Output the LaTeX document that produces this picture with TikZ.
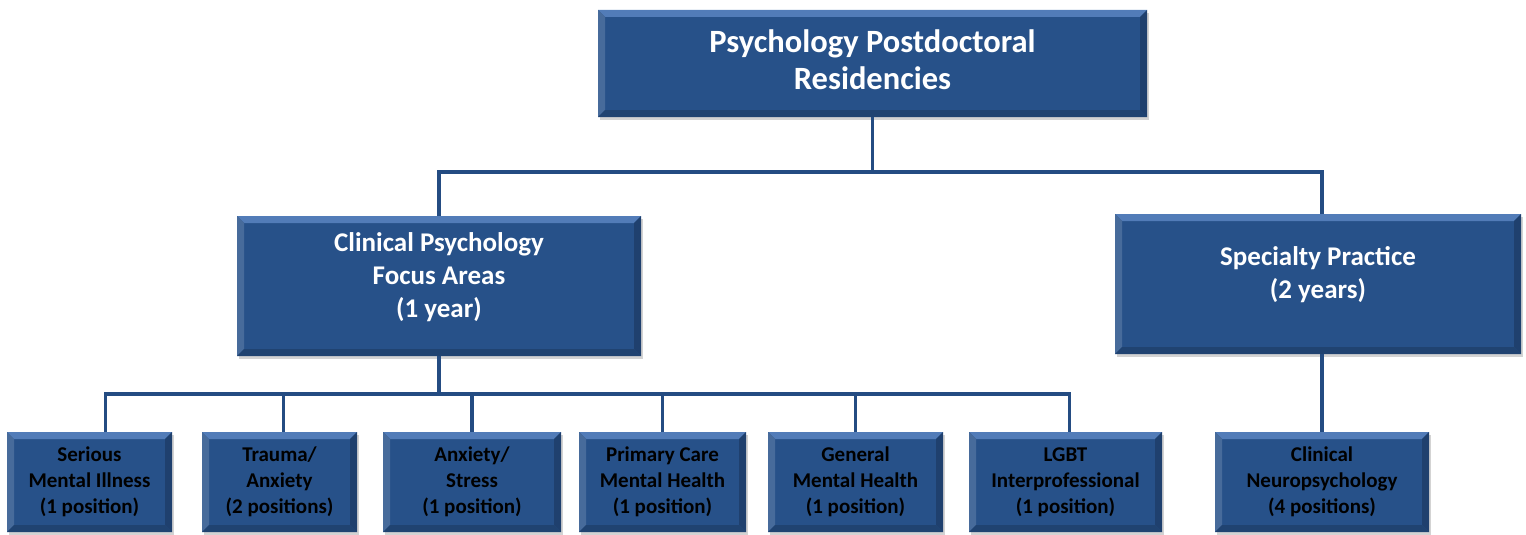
\documentclass[tikz,border=0pt]{standalone}
\usepackage{fontspec}
\setmainfont{Carlito}
\usetikzlibrary{positioning,shadows}

\definecolor{boxblue}{RGB}{39,81,137}
\definecolor{linkblue}{RGB}{36,76,130}
\definecolor{bevellight}{RGB}{82,124,184}
\definecolor{beveldark}{RGB}{27,57,98}

\tikzset{
    bevel/.style={path picture={
        \path (path picture bounding box.north west) coordinate (bnw)
              (path picture bounding box.north east) coordinate (bne)
              (path picture bounding box.south west) coordinate (bsw)
              (path picture bounding box.south east) coordinate (bse);
        \fill[bevellight] (bnw) -- (bne) -- ([shift={(-#1,-#1)}]bne) -- ([shift={(#1,-#1)}]bnw) -- cycle;
        \fill[boxblue!85!white] (bnw) -- ([shift={(#1,-#1)}]bnw) -- ([shift={(#1,#1)}]bsw) -- (bsw) -- cycle;
        \fill[beveldark!70!boxblue] (bne) -- ([shift={(-#1,-#1)}]bne) -- ([shift={(-#1,#1)}]bse) -- (bse) -- cycle;
        \fill[beveldark!60!boxblue] (bsw) -- ([shift={(#1,#1)}]bsw) -- ([shift={(-#1,#1)}]bse) -- (bse) -- cycle;
    }},
    resbox/.style={rectangle, fill=boxblue, bevel=7pt, align=center, inner sep=0pt,
        drop shadow={shadow xshift=2pt, shadow yshift=-3pt, opacity=.35}},
    headbox/.style={resbox, text=white, font=\fontsize{32.5}{37}\selectfont\bfseries},
    areabox/.style={resbox, text=white, font=\fontsize{27}{33}\selectfont\bfseries},
    posbox/.style={resbox, text=black, minimum height=100pt, font=\fontsize{21}{26}\selectfont\bfseries},
    link/.style={draw=linkblue, line width=3.5pt}
}

\begin{document}
\begin{tikzpicture}[x=1pt, y=-1pt]
\useasboundingbox (0,0) rectangle (1526,535);

% top level
\node[headbox, minimum width=549pt, minimum height=107pt, text depth=7pt] (top) at (872.5,63.5)
    {Psychology Postdoctoral\\Residencies};

% residency tracks
\node[areabox, minimum width=404pt, minimum height=140pt, text depth=21pt] (clin) at (439,286)
    {Clinical Psychology\\Focus Areas\\(1 year)};
\node[areabox, minimum width=406pt, minimum height=140pt, text depth=22pt] (spec) at (1318,284)
    {Specialty Practice\\(2 years)};

% positions
\node[posbox, minimum width=165pt] (serious) at (89.5,482) {Serious\\Mental Illness\\(1 position)};
\node[posbox, minimum width=155pt] (trauma) at (279.5,482) {Trauma/\\Anxiety\\(2 positions)};
\node[posbox, minimum width=178pt] (anxiety) at (472,482) {Anxiety/\\Stress\\(1 position)};
\node[posbox, minimum width=167pt] (primary) at (662.5,482) {Primary Care\\Mental Health\\(1 position)};
\node[posbox, minimum width=175pt] (general) at (855.5,482) {General\\Mental Health\\(1 position)};
\node[posbox, minimum width=193pt] (lgbt) at (1065.5,482) {LGBT\\Interprofessional\\(1 position)};
\node[posbox, minimum width=214pt] (neuro) at (1322,482) {Clinical\\Neuropsychology\\(4 positions)};

% connectors
\draw[link] (top.south) -- ++(0,55) coordinate (topbus);
\draw[link] (clin.north) |- (topbus) -| (neuro.north |- spec.north);
\draw[link] (neuro.north |- spec.south) -- (neuro.north);
\draw[link] (clin.south) -- ++(0,38) coordinate (areabus);
\draw[link] ([xshift=16pt]serious.north) |- (areabus) -| ([xshift=4pt]lgbt.north);
\draw[link] ([xshift=4pt]trauma.north) -- ([xshift=4pt]trauma.north |- areabus);
\foreach \n in {anxiety,primary,general}
    \draw[link] (\n.north) -- (\n.north |- areabus);
\end{tikzpicture}
\end{document}
